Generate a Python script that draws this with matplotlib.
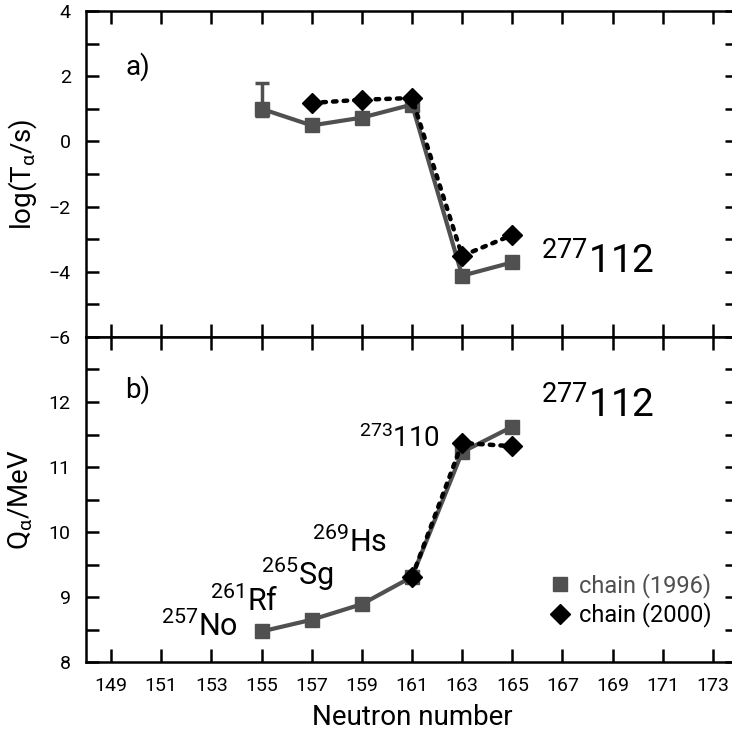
import numpy as np
import matplotlib
matplotlib.use("Agg")
import matplotlib.pyplot as plt
from matplotlib.lines import Line2D

plt.rcParams['font.family'] = ['Roboto', 'DejaVu Sans']
plt.rcParams['mathtext.fontset'] = 'custom'
plt.rcParams['mathtext.rm'] = 'Roboto'
plt.rcParams['mathtext.it'] = 'Roboto'

# data
n_1996 = [155, 157, 159, 161, 163, 165]
logT_1996 = [1.0, 0.49, 0.73, 1.13, -4.12, -3.71]
logT_err_up = [0.78, 0, 0, 0, 0, 0]
logT_err_dn = [0.22, 0, 0, 0, 0, 0]
Q_1996 = [8.47, 8.65, 8.89, 9.31, 11.23, 11.62]

n_2000_T = [157, 159, 161, 163, 165]
logT_2000 = [1.18, 1.28, 1.33, -3.51, -2.87]
n_2000_Q = [161, 163, 165]
Q_2000 = [9.31, 11.37, 11.32]

# nuclide labels (x, y, superscript, symbol)
nuclides = [(150.99, 8.40, '257', 'No'),
            (152.95, 8.78, '261', 'Rf'),
            (154.98, 9.19, '265', 'Sg'),
            (157.0, 9.70, '269', 'Hs')]

gray = '#505050'
xticks = np.arange(149, 174, 2)

fig = plt.figure(figsize=(7.32, 7.35), dpi=100)
ax1 = fig.add_axes([0.1175, 0.5415, 0.8907, 0.4435])
ax2 = fig.add_axes([0.1175, 0.0993, 0.8907, 0.4422])

# top panel: half-lives
ax1.errorbar(n_1996, logT_1996, yerr=[logT_err_dn, logT_err_up], color=gray,
             lw=3, marker='s', ms=10.5, capsize=5, capthick=2.5, elinewidth=2.5, zorder=2)
ax1.plot(n_2000_T, logT_2000, color='black', lw=3.2, ls=(0, (0.8, 1.6)),
         dash_capstyle='round', marker='D', ms=10, zorder=3)

# bottom panel: Q values
ax2.plot(n_1996, Q_1996, color=gray, lw=3, marker='s', ms=10.5, zorder=2)
ax2.plot(n_2000_Q, Q_2000, color='black', lw=3.2, ls=(0, (0.8, 1.6)),
         dash_capstyle='round', marker='D', ms=10, zorder=3)

for ax in (ax1, ax2):
    ax.set_xlim(148, 174)
    ax.set_xticks(xticks)
    ax.tick_params(direction='in', length=9.5, width=1.8, top=True, right=True,
                   labelsize=14, pad=11)
    ax.tick_params(which='minor', direction='in', length=9.5, width=1.8, right=True)
    for s in ax.spines.values():
        s.set_linewidth(1.8)

ax1.set_ylim(-6, 4)
ax1.set_yticks(np.arange(-6, 5, 2))
ax1.set_yticks(np.arange(-5, 4, 2), minor=True)
ax1.set_yticklabels(['\u22126', '\u22124', '\u22122', '0', '2', '4'])
ax1.tick_params(labelbottom=False)
ax1.set_ylabel(r'log(T$_{\mathrm{α}}$/s)', fontsize=20, labelpad=7)

ax2.set_ylim(8, 13)
ax2.set_yticks(np.arange(8, 13, 1))
ax2.set_yticks(np.arange(8.5, 13.1, 0.5), minor=True)
ax2.set_ylabel(r'Q$_{\mathrm{α}}$/MeV', fontsize=20, labelpad=10)
ax2.set_xlabel('Neutron number', fontsize=20, labelpad=6)

ax1.text(149.56, 2.31, 'a)', fontsize=20, va='center')
ax2.text(149.56, 12.19, 'b)', fontsize=20, va='center')

ax1.text(166.15, -4.04, r'$^{277}$112', fontsize=28, va='baseline')
ax2.text(166.15, 11.76, r'$^{277}$112', fontsize=28, va='baseline')
ax2.text(158.9, 11.31, r'$^{273}$110', fontsize=20, va='baseline')
for x, y, a, sym in nuclides:
    ax2.text(x, y, r'$^{%s}$' % a + sym, fontsize=22, va='baseline')

handles = [Line2D([], [], color=gray, marker='s', ls='none', ms=10.5),
           Line2D([], [], color='black', marker='D', ls='none', ms=10)]
ax2.legend(handles, ['chain (1996)', 'chain (2000)'], loc='upper left',
           bbox_to_anchor=(0.68, 0.34), frameon=False, fontsize=17,
           handlelength=0.8, handletextpad=0.4, labelspacing=0.2,
           labelcolor=[gray, 'black'])

fig.savefig('out.png', dpi=100)
